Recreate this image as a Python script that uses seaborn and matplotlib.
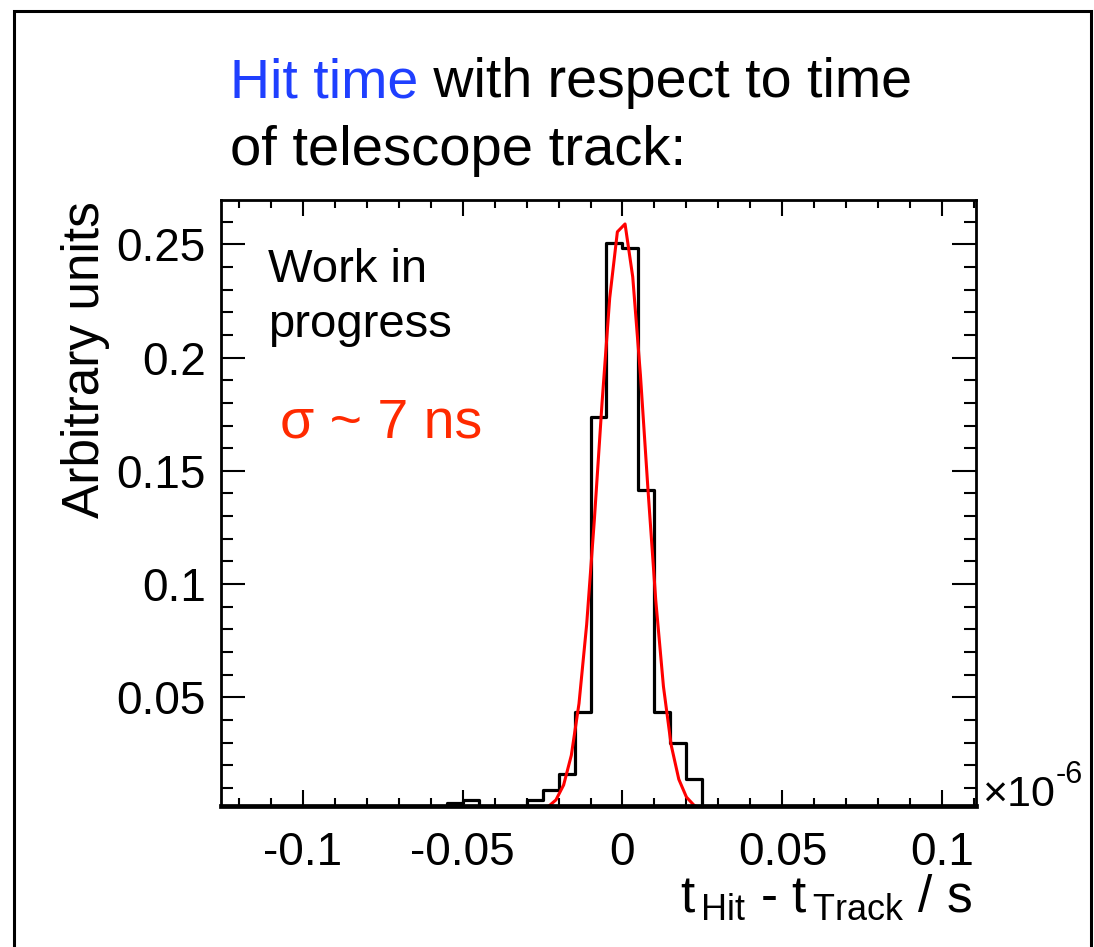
import numpy as np
import matplotlib
matplotlib.use("Agg")
import matplotlib.pyplot as plt
import seaborn as sns
from matplotlib.patches import Rectangle
from matplotlib.ticker import MultipleLocator

# Histogram of hit time minus track time (units of 1e-6 s), 5 ns bins
bin_edges = [-0.060, -0.055, -0.050, -0.045, -0.040, -0.035, -0.030, -0.025,
             -0.020, -0.015, -0.010, -0.005, 0.000, 0.005, 0.010, 0.015,
             0.020, 0.025, 0.030]
bin_contents = [0.0, 0.0032, 0.0047, 0.0012, 0.0010, 0.0015, 0.0047, 0.0092,
                0.0160, 0.0436, 0.1739, 0.2504, 0.2485, 0.1415, 0.0436, 0.0297,
                0.0138, 0.0]

# Gaussian fit parameters
fit_amplitude = 0.261
fit_mean = -0.0001
fit_sigma = 0.0073
fit_range = (-0.0232, 0.0248)
fit_npoints = 21

x_tick_values = [-0.1, -0.05, 0.0, 0.05, 0.1]
x_tick_labels = ["-0.1", "-0.05", "0", "0.05", "0.1"]
y_tick_values = [0.05, 0.1, 0.15, 0.2, 0.25]
y_tick_labels = ["0.05", "0.1", "0.15", "0.2", "0.25"]

sns.set_theme(style="white")
plt.rcParams["font.family"] = ["Liberation Sans", "DejaVu Sans"]
plt.rcParams["mathtext.fontset"] = "custom"
plt.rcParams["mathtext.rm"] = "Liberation Sans"

W, H = 1094, 947
fig = plt.figure(figsize=(W / 100, H / 100), dpi=100)
ax = fig.add_axes([221 / W, 1 - 806 / H, 755 / W, 606 / H])

edges = np.array(bin_edges)
centers = 0.5 * (edges[:-1] + edges[1:])
sns.histplot(x=centers, weights=bin_contents, bins=bin_edges, element="step",
             fill=False, color="black", linewidth=2.3, ax=ax)
for artist in list(ax.lines) + list(ax.patches) + list(ax.collections):
    artist.set_linewidth(2.3)

fit_x = np.linspace(fit_range[0], fit_range[1], fit_npoints)
fit_y = fit_amplitude * np.exp(-0.5 * ((fit_x - fit_mean) / fit_sigma) ** 2)
sns.lineplot(x=fit_x, y=fit_y, color="#ff0000", linewidth=2.2,
             estimator=None, sort=False, ax=ax)

ax.set_xlim(-0.1255, 0.1105)
ax.set_ylim(0.002, 0.2696)
ax.set_xticks(x_tick_values)
ax.set_xticklabels(x_tick_labels)
ax.set_yticks(y_tick_values)
ax.set_yticklabels(y_tick_labels)
ax.xaxis.set_minor_locator(MultipleLocator(0.01))
ax.yaxis.set_minor_locator(MultipleLocator(0.01))
ax.tick_params(which="both", direction="in", top=True, right=True,
               bottom=True, left=True, width=1.5, color="black",
               labelsize=33, labelcolor="black")
ax.tick_params(axis="x", which="major", length=11.5, pad=18)
ax.tick_params(axis="x", which="minor", length=5.8)
ax.tick_params(axis="y", which="major", length=17, pad=11)
ax.tick_params(axis="y", which="minor", length=8.6)
for side, sp in ax.spines.items():
    sp.set_visible(True)
    sp.set_color("black")
    sp.set_linewidth(2.0)
ax.spines["bottom"].set_linewidth(3.4)

ax.set_ylabel("Arbitrary units", fontsize=37, color="black")
ax.yaxis.set_label_coords(-0.180, 0.736)
ax.yaxis.label.set_va("center")

ax.set_xlabel(r"$\mathregular{t_{\,Hit}}$ - $\mathregular{t_{\,Track}}$ / s",
              fontsize=37, color="black", ha="right", va="baseline")
ax.xaxis.set_label_coords(0.995, (806 - 912) / 606)

# axis multiplier
ax.text(1.008, 0.0, "\u00d710", transform=ax.transAxes, fontsize=31,
        ha="left", va="baseline", color="black")
ax.text(1.105, 0.038, "-6", transform=ax.transAxes, fontsize=22,
        ha="left", va="baseline", color="black")

# annotations inside the frame
ax.text(0.0623, 0.8647, "Work in", transform=ax.transAxes, fontsize=34,
        ha="left", va="baseline", color="black")
ax.text(0.0623, 0.7739, "progress", transform=ax.transAxes, fontsize=34,
        ha="left", va="baseline", color="black")
ax.text(0.078, 0.6073, "\u03c3 ~ 7 ns", transform=ax.transAxes, fontsize=40,
        ha="left", va="baseline", color="#ff2a00")

# heading
t1 = fig.text(230 / W, 1 - 97 / H, "Hit time", fontsize=40, color="#1f3fff",
              ha="left", va="baseline")
ax.annotate(" with respect to time", xy=(1, 0), xycoords=t1, fontsize=40,
            ha="left", va="bottom", color="black", annotation_clip=False)
fig.text(230 / W, 1 - 165 / H, "of telescope track:", fontsize=40.5,
         color="black", ha="left", va="baseline")

# page frame
fig.patches.append(Rectangle((14 / W, -0.05), (1091 - 14) / W, 1 - 11 / H + 0.05,
                             transform=fig.transFigure, fill=False,
                             edgecolor="black", linewidth=2.2))

fig.savefig("out.png", dpi=100)
